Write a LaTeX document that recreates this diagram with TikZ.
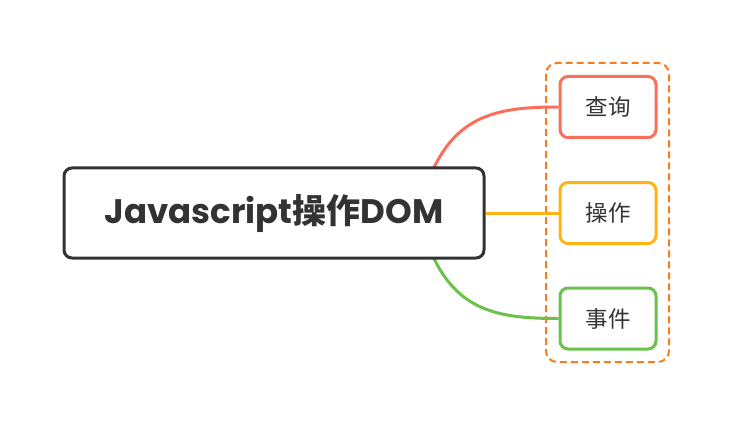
\documentclass[tikz,border=0pt]{standalone}
\usepackage{fontspec}
\newfontfamily\titlefont{Poppins}
\newfontfamily\cjk{Noto Sans CJK SC}
\usetikzlibrary{positioning}
\definecolor{ink}{HTML}{333333}
\definecolor{cred}{HTML}{FA6E5C}
\definecolor{cyel}{HTML}{FFB416}
\definecolor{cgrn}{HTML}{6CC04C}
\definecolor{cdash}{HTML}{F57D20}
\tikzset{
  mainbox/.style={draw=ink, line width=3pt, rounded corners=8pt, fill=white, minimum width=420pt, minimum height=90pt, inner sep=0pt, text=ink},
  childbox/.style={draw=#1, line width=3pt, rounded corners=8pt, fill=white, minimum width=96pt, minimum height=61pt, inner sep=0pt, text=ink, font=\cjk\fontsize{22.5}{26}\selectfont},
  link/.style={line width=3pt, draw=#1},
}
\begin{document}
\begin{tikzpicture}[x=1pt,y=-1pt]
\useasboundingbox (0,0) rectangle (731,425);
\draw[cdash, line width=2pt, dash pattern=on 7pt off 4pt, rounded corners=11pt] (546,63) rectangle (669,362);
\coordinate (rs) at (425,190);
\coordinate (gs) at (425,236);
\node[childbox=cred] (q) at (608,107) {查询};
\node[childbox=cyel] (o) at (608,213) {操作};
\node[childbox=cgrn] (e) at (608,318.5) {事件};
\draw[link=cred] (rs) .. controls (450,115) and (495,107) .. (q.west);
\draw[link=cgrn] (gs) .. controls (450,311) and (495,318.5) .. (e.west);
\node[mainbox] (m) at (274,213) {\fontsize{34}{40}\selectfont\bfseries\titlefont Javascript\cjk 操作\titlefont DOM};
\draw[link=cyel] (m.east) -- (o.west);
\end{tikzpicture}
\end{document}
